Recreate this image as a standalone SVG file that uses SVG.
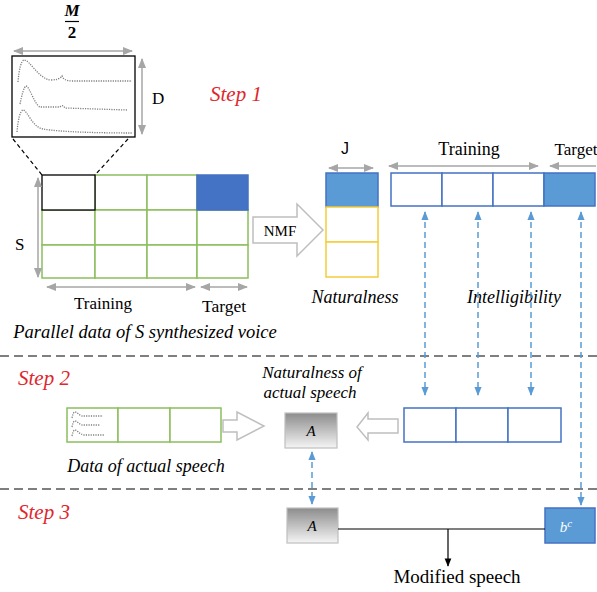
<svg xmlns="http://www.w3.org/2000/svg" width="597" height="592" viewBox="0 0 597 592">
<defs>
<marker id="ga" viewBox="0 0 10 10" refX="9" refY="5" markerWidth="7" markerHeight="7" orient="auto-start-reverse"><path d="M0,1 L10,5 L0,9 z" fill="#a6a6a6"/></marker>
<marker id="ba" viewBox="0 0 10 10" refX="9" refY="5" markerWidth="6" markerHeight="6" orient="auto-start-reverse"><path d="M0,1 L10,5 L0,9 z" fill="#5b9bd5"/></marker>
<marker id="ka" viewBox="0 0 10 10" refX="9" refY="5" markerWidth="7" markerHeight="7" orient="auto"><path d="M0,1 L10,5 L0,9 z" fill="#000"/></marker>
<linearGradient id="gg" x1="0" y1="0" x2="0" y2="1"><stop offset="0" stop-color="#8c8c8c"/><stop offset="1" stop-color="#f5f5f5"/></linearGradient>
<style>
.g{fill:#fff;stroke:#8cbf5f;stroke-width:1.5}
.y{fill:#fff;stroke:#f5cd3a;stroke-width:1.5}
.bw{fill:#fff;stroke:#4472c4;stroke-width:1.5}
.bf{fill:#5b9bd5;stroke:#4472c4;stroke-width:1.5}
.dim{stroke:#a6a6a6;stroke-width:1.5;fill:none}
.da{stroke:#5b9bd5;stroke-width:1.5;stroke-dasharray:6 4;fill:none}
.sep{stroke:#000;stroke-width:1.2;stroke-dasharray:9 5}
.wave{fill:none;stroke:#7f7f7f;stroke-width:1.3;stroke-dasharray:1.2 1.2}
.hol{fill:#fff;stroke:#bfbfbf;stroke-width:1.5}
.ab{fill:url(#gg);stroke:#bfbfbf;stroke-width:1.2}
</style>
</defs>

<line class="sep" x1="0" y1="356" x2="597" y2="356"/>
<line class="sep" x1="0" y1="489" x2="597" y2="489"/>

<g id="step-labels" font-family="Liberation Serif" font-style="italic" fill="#e0262c" font-size="21">
<text x="210" y="101">Step 1</text>
<text x="18" y="385">Step 2</text>
<text x="18" y="519">Step 3</text>
</g>

<g id="spectrum-box" font-family="Liberation Serif">
<rect x="12" y="56" width="123" height="81" fill="#fff" stroke="#000" stroke-width="1.3"/>
<path class="wave" d="M18,82 C19,70 21,61 24,60 C30,60 38,78 50,80 C56,80 60,79 62,76 C63,79 66,81 72,81 L132,81"/>
<path class="wave" d="M20,104 C22,94 24,87 26,86 C30,87 34,104 40,107 L60,107 C62,105 63,105 65,108 L127,110"/>
<path class="wave" d="M17,132 C18,120 20,111 23,110 C28,111 32,127 43,129 C60,132 100,133 132,133"/>
<line class="dim" x1="14" y1="51" x2="132" y2="51" marker-start="url(#ga)" marker-end="url(#ga)"/>
<line class="dim" x1="142" y1="59" x2="142" y2="134" marker-start="url(#ga)" marker-end="url(#ga)"/>
<text x="72" y="16" font-size="17" font-style="italic" text-anchor="middle" font-weight="bold">M</text>
<line x1="65" y1="21.5" x2="79" y2="21.5" stroke="#000" stroke-width="1.2"/>
<text x="72" y="38" font-size="17" text-anchor="middle" font-weight="bold">2</text>
<text x="152" y="104" font-size="17">D</text>
<line x1="13" y1="139" x2="42" y2="175" stroke="#000" stroke-width="1.2" stroke-dasharray="4 3"/>
<line x1="128" y1="139" x2="95" y2="175" stroke="#000" stroke-width="1.2" stroke-dasharray="4 3"/>
</g>

<g id="parallel-data" font-family="Liberation Serif">
<rect class="g" x="95" y="175" width="52" height="35"/>
<rect class="g" x="147" y="175" width="50" height="35"/>
<rect class="g" x="42" y="210" width="53" height="35"/>
<rect class="g" x="95" y="210" width="52" height="35"/>
<rect class="g" x="147" y="210" width="50" height="35"/>
<rect class="g" x="197" y="210" width="51" height="35"/>
<rect class="g" x="42" y="245" width="53" height="33"/>
<rect class="g" x="95" y="245" width="52" height="33"/>
<rect class="g" x="147" y="245" width="50" height="33"/>
<rect class="g" x="197" y="245" width="51" height="33"/>
<rect x="197" y="175" width="51" height="35" fill="#4472c4" stroke="#4472c4" stroke-width="1.5"/>
<rect x="42" y="175" width="53" height="35" fill="#fff" stroke="#000" stroke-width="1.3"/>
<line class="dim" x1="38" y1="178" x2="38" y2="277" marker-start="url(#ga)" marker-end="url(#ga)"/>
<text x="15" y="250" font-size="17">S</text>
<line class="dim" x1="47" y1="287" x2="195" y2="287" marker-start="url(#ga)" marker-end="url(#ga)"/>
<line class="dim" x1="201" y1="287" x2="247" y2="287" marker-start="url(#ga)" marker-end="url(#ga)"/>
<text x="103" y="309" font-size="17" text-anchor="middle">Training</text>
<text x="224" y="312" font-size="17.5" text-anchor="middle">Target</text>
<text x="145" y="338" font-size="18.5" font-style="italic" text-anchor="middle">Parallel data of S synthesized voice</text>
</g>

<g id="nmf-arrow" font-family="Liberation Serif">
<path class="hol" d="M253,217 L297,217 L297,204 L323,230 L297,256 L297,243 L253,243 Z"/>
<text x="280" y="236" font-size="15" text-anchor="middle">NMF</text>
</g>

<g id="naturalness" font-family="Liberation Serif">
<rect class="bf" x="326" y="173" width="52" height="34"/>
<rect class="y" x="326" y="207" width="52" height="35"/>
<rect class="y" x="326" y="242" width="52" height="35"/>
<line class="dim" x1="329" y1="168" x2="373" y2="168" marker-start="url(#ga)" marker-end="url(#ga)"/>
<text x="345" y="154" font-family="Liberation Sans" font-size="16" text-anchor="middle">J</text>
<text x="355" y="303" font-size="18" font-style="italic" text-anchor="middle">Naturalness</text>
</g>

<g id="intelligibility" font-family="Liberation Serif">
<rect class="bw" x="391" y="173" width="51" height="33"/>
<rect class="bw" x="442" y="173" width="51" height="33"/>
<rect class="bw" x="493" y="173" width="51" height="33"/>
<rect class="bf" x="544" y="173" width="51" height="33"/>
<line class="dim" x1="389" y1="166" x2="538" y2="166" marker-start="url(#ga)" marker-end="url(#ga)"/>
<line class="dim" x1="550" y1="166" x2="596" y2="166" marker-start="url(#ga)"/>
<text x="469" y="155" font-size="18" text-anchor="middle">Training</text>
<text x="576" y="155" font-size="17" text-anchor="middle">Target</text>
<text x="514" y="303" font-size="18" font-style="italic" text-anchor="middle">Intelligibility</text>
</g>

<g id="actual-data" font-family="Liberation Serif">
<rect class="g" x="67" y="408" width="51" height="34"/>
<rect class="g" x="118" y="408" width="52" height="34"/>
<rect class="g" x="170" y="408" width="51" height="34"/>
<path class="wave" stroke-width="0.8" d="M72,418 C73,413 74,412 75,412 C77,412 79,415 82,416 L103,416"/>
<path class="wave" stroke-width="0.8" d="M72,427 C73,422 74,421 75,421 C77,421 79,424 82,425 L100,425"/>
<path class="wave" stroke-width="0.8" d="M72,436 C73,431 74,430 75,430 C77,430 79,434 84,435 L105,435"/>
<text x="146" y="472" font-size="18" font-style="italic" text-anchor="middle">Data of actual speech</text>
<path class="hol" d="M223,420 L237,420 L237,412 L264,426 L237,440 L237,432 L223,432 Z"/>
</g>

<g id="a-actual" font-family="Liberation Serif" font-style="italic">
<rect class="ab" x="285" y="413" width="52" height="35"/>
<text x="311" y="436" font-size="15" text-anchor="middle">A</text>
<text x="312" y="378" font-size="17" text-anchor="middle">Naturalness of</text>
<text x="310" y="398" font-size="17" text-anchor="middle">actual speech</text>
</g>

<g id="actual-intelligibility">
<rect class="bw" x="404" y="408" width="52" height="34"/>
<rect class="bw" x="456" y="408" width="52" height="34"/>
<rect class="bw" x="508" y="408" width="53" height="34"/>
<path class="hol" d="M357,427 L368,413 L368,419 L398,419 L398,433 L368,433 L368,440 Z"/>
</g>

<g id="a-step3" font-family="Liberation Serif" font-style="italic">
<rect class="ab" x="287" y="508" width="51" height="35"/>
<text x="312" y="531" font-size="15" text-anchor="middle">A</text>
</g>

<g id="bc" font-family="Liberation Serif" font-style="italic">
<rect class="bf" x="545" y="508" width="50" height="35"/>
<text x="566" y="532" font-size="15" text-anchor="middle" fill="#fff">b<tspan font-size="11" dy="-5">c</tspan></text>
</g>

<g id="connectors" font-family="Liberation Serif">
<line class="da" x1="425" y1="212" x2="425" y2="395" marker-start="url(#ba)" marker-end="url(#ba)"/>
<line class="da" x1="478" y1="212" x2="478" y2="395" marker-start="url(#ba)" marker-end="url(#ba)"/>
<line class="da" x1="531" y1="212" x2="531" y2="395" marker-start="url(#ba)" marker-end="url(#ba)"/>
<line class="da" x1="581" y1="212" x2="581" y2="505" marker-start="url(#ba)" marker-end="url(#ba)"/>
<line class="da" x1="312" y1="452" x2="312" y2="504" marker-start="url(#ba)" marker-end="url(#ba)"/>
<line x1="338" y1="529" x2="545" y2="529" stroke="#000" stroke-width="1.2"/>
<line x1="448" y1="529" x2="448" y2="566" stroke="#000" stroke-width="1.2" marker-end="url(#ka)"/>
<text x="457" y="583" font-size="19" text-anchor="middle">Modified speech</text>
</g>
</svg>
